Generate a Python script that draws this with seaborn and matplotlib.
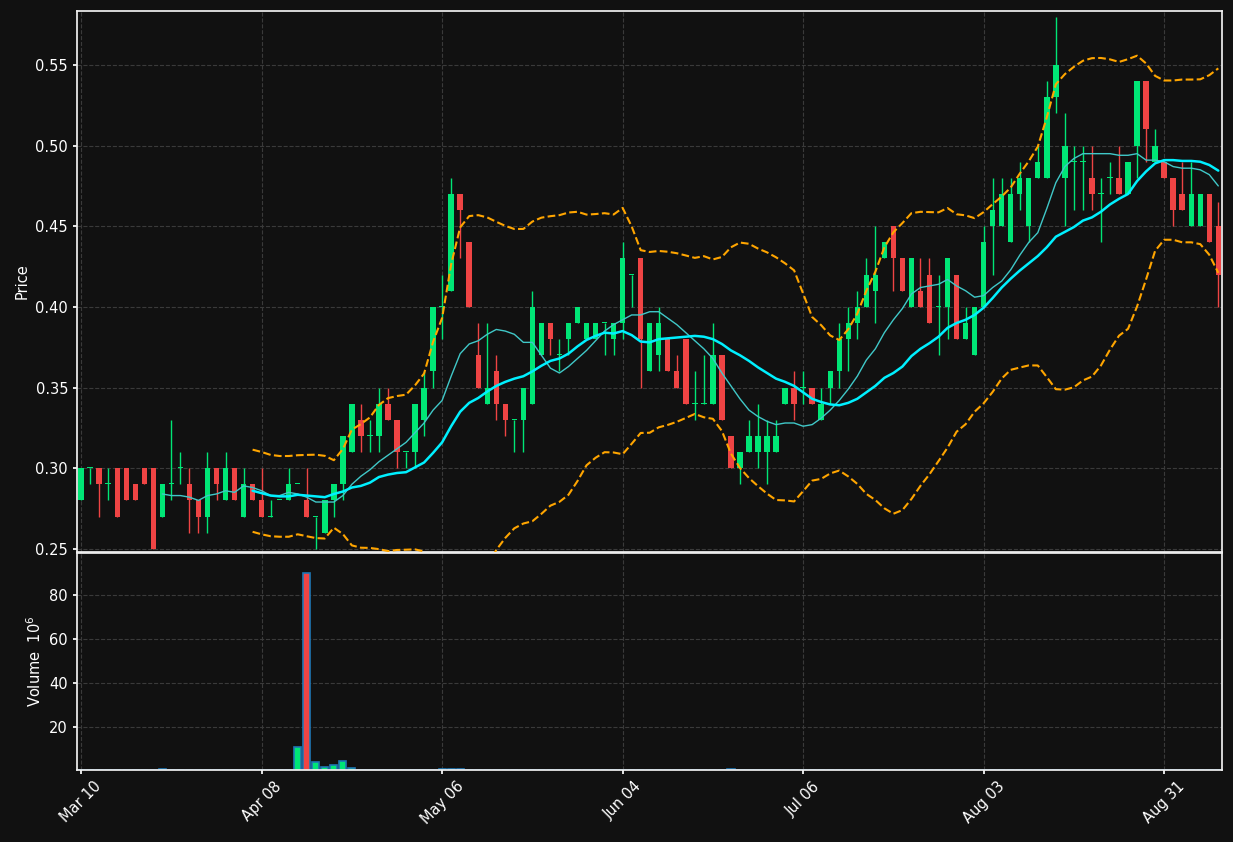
import numpy as np
import pandas as pd
import matplotlib
matplotlib.use('Agg')
import matplotlib.pyplot as plt
import seaborn as sns

# OHLC (one row per trading day)
opens = [0.28, 0.30, 0.30, 0.29, 0.30, 0.30, 0.29, 0.30, 0.30, 0.27,
         0.29, 0.30, 0.29, 0.28, 0.27, 0.30, 0.28, 0.30, 0.27, 0.29,
         0.28, 0.27, 0.28, 0.28, 0.29, 0.28, 0.27, 0.26, 0.28, 0.29,
         0.31, 0.33, 0.32, 0.32, 0.34, 0.33, 0.31, 0.31, 0.33, 0.36,
         0.40, 0.41, 0.47, 0.44, 0.37, 0.34, 0.36, 0.34, 0.33, 0.33,
         0.34, 0.37, 0.39, 0.37, 0.38, 0.39, 0.38, 0.38, 0.39, 0.38,
         0.39, 0.42, 0.43, 0.36, 0.37, 0.38, 0.36, 0.38, 0.34, 0.34,
         0.34, 0.37, 0.32, 0.30, 0.31, 0.31, 0.31, 0.31, 0.34, 0.35,
         0.35, 0.35, 0.33, 0.35, 0.36, 0.38, 0.39, 0.40, 0.41, 0.43,
         0.45, 0.43, 0.40, 0.41, 0.42, 0.40, 0.40, 0.42, 0.38, 0.37,
         0.40, 0.45, 0.45, 0.44, 0.47, 0.45, 0.48, 0.48, 0.53, 0.48,
         0.49, 0.49, 0.48, 0.47, 0.48, 0.48, 0.47, 0.50, 0.54, 0.49,
         0.49, 0.48, 0.47, 0.45, 0.45, 0.47, 0.45]
closes = [0.30, 0.30, 0.29, 0.29, 0.27, 0.28, 0.28, 0.29, 0.25, 0.29,
          0.29, 0.30, 0.28, 0.27, 0.30, 0.29, 0.30, 0.28, 0.29, 0.28,
          0.27, 0.27, 0.28, 0.29, 0.29, 0.27, 0.27, 0.28, 0.29, 0.32,
          0.34, 0.32, 0.32, 0.34, 0.33, 0.31, 0.31, 0.34, 0.35, 0.40,
          0.40, 0.47, 0.46, 0.40, 0.35, 0.35, 0.34, 0.33, 0.33, 0.35,
          0.40, 0.39, 0.38, 0.37, 0.39, 0.40, 0.39, 0.39, 0.39, 0.39,
          0.43, 0.42, 0.38, 0.39, 0.39, 0.36, 0.35, 0.34, 0.34, 0.34,
          0.37, 0.33, 0.30, 0.31, 0.32, 0.32, 0.32, 0.32, 0.35, 0.34,
          0.35, 0.34, 0.34, 0.36, 0.38, 0.39, 0.40, 0.42, 0.42, 0.44,
          0.43, 0.41, 0.43, 0.40, 0.39, 0.40, 0.43, 0.38, 0.39, 0.40,
          0.44, 0.46, 0.47, 0.47, 0.48, 0.48, 0.49, 0.53, 0.55, 0.50,
          0.49, 0.49, 0.47, 0.47, 0.48, 0.47, 0.49, 0.54, 0.51, 0.50,
          0.48, 0.46, 0.46, 0.47, 0.47, 0.44, 0.42]
highs = [0.30, 0.30, 0.30, 0.30, 0.30, 0.30, 0.29, 0.30, 0.30, 0.29,
         0.33, 0.31, 0.30, 0.28, 0.31, 0.30, 0.31, 0.30, 0.30, 0.29,
         0.30, 0.28, 0.28, 0.30, 0.29, 0.30, 0.27, 0.28, 0.29, 0.32,
         0.34, 0.34, 0.33, 0.35, 0.35, 0.33, 0.31, 0.34, 0.36, 0.40,
         0.42, 0.48, 0.47, 0.44, 0.39, 0.39, 0.37, 0.34, 0.33, 0.35,
         0.41, 0.39, 0.39, 0.38, 0.39, 0.40, 0.39, 0.39, 0.39, 0.39,
         0.44, 0.42, 0.43, 0.39, 0.40, 0.38, 0.37, 0.38, 0.36, 0.37,
         0.39, 0.37, 0.32, 0.31, 0.33, 0.34, 0.33, 0.33, 0.35, 0.36,
         0.36, 0.35, 0.35, 0.36, 0.39, 0.40, 0.41, 0.43, 0.45, 0.44,
         0.45, 0.43, 0.43, 0.43, 0.43, 0.42, 0.43, 0.42, 0.40, 0.40,
         0.45, 0.48, 0.48, 0.48, 0.49, 0.48, 0.50, 0.54, 0.58, 0.52,
         0.50, 0.50, 0.50, 0.48, 0.49, 0.50, 0.49, 0.54, 0.54, 0.51,
         0.49, 0.48, 0.49, 0.49, 0.47, 0.47, 0.465]
lows = [0.28, 0.29, 0.27, 0.28, 0.27, 0.28, 0.28, 0.29, 0.25, 0.27,
        0.28, 0.29, 0.26, 0.26, 0.26, 0.28, 0.28, 0.28, 0.27, 0.28,
        0.27, 0.27, 0.28, 0.28, 0.29, 0.27, 0.25, 0.26, 0.27, 0.28,
        0.31, 0.31, 0.31, 0.31, 0.33, 0.30, 0.30, 0.30, 0.32, 0.35,
        0.38, 0.41, 0.43, 0.40, 0.35, 0.34, 0.33, 0.32, 0.31, 0.31,
        0.34, 0.37, 0.37, 0.36, 0.37, 0.39, 0.38, 0.38, 0.37, 0.37,
        0.38, 0.40, 0.35, 0.36, 0.36, 0.36, 0.35, 0.34, 0.33, 0.34,
        0.34, 0.33, 0.30, 0.29, 0.31, 0.30, 0.29, 0.31, 0.34, 0.33,
        0.34, 0.34, 0.33, 0.34, 0.35, 0.36, 0.38, 0.40, 0.39, 0.43,
        0.41, 0.41, 0.40, 0.40, 0.39, 0.37, 0.38, 0.38, 0.38, 0.37,
        0.40, 0.42, 0.45, 0.44, 0.46, 0.44, 0.48, 0.48, 0.52, 0.45,
        0.46, 0.46, 0.46, 0.44, 0.47, 0.47, 0.47, 0.48, 0.49, 0.49,
        0.48, 0.45, 0.46, 0.45, 0.45, 0.44, 0.40]
volumes = [0.3, 0.3, 0.3, 0.3, 0.3, 0.3, 0.3, 0.3, 0.4, 0.8,
           0.6, 0.3, 0.3, 0.3, 0.3, 0.6, 0.3, 0.3, 0.5, 0.3,
           0.5, 0.3, 0.3, 0.4, 11.0, 90.0, 4.0, 2.0, 2.5, 4.5,
           1.5, 0.6, 0.5, 0.6, 0.6, 0.6, 0.4, 0.4, 0.4, 0.6,
           0.8, 0.8, 0.7, 0.6, 0.6, 0.6, 0.5, 0.4, 0.4, 0.4,
           0.6, 0.4, 0.4, 0.3, 0.3, 0.3, 0.3, 0.3, 0.3, 0.3,
           0.3, 0.3, 0.3, 0.3, 0.3, 0.3, 0.3, 0.3, 0.3, 0.3,
           0.6, 0.3, 0.8, 0.3, 0.3, 0.3, 0.3, 0.3, 0.3, 0.3,
           0.3, 0.3, 0.3, 0.3, 0.3, 0.3, 0.3, 0.3, 0.3, 0.3,
           0.3, 0.3, 0.3, 0.4, 0.3, 0.3, 0.3, 0.3, 0.3, 0.3,
           0.5, 0.3, 0.3, 0.3, 0.3, 0.3, 0.3, 0.5, 0.5, 0.5,
           0.3, 0.3, 0.3, 0.3, 0.3, 0.3, 0.3, 0.3, 0.3, 0.3,
           0.3, 0.3, 0.3, 0.3, 0.3, 0.3, 0.3]
tick_labels = ['Mar 10', 'Apr 08', 'May 06', 'Jun 04', 'Jul 06', 'Aug 03', 'Aug 31']

df = pd.DataFrame({'open': opens, 'high': highs, 'low': lows,
                   'close': closes, 'volume': volumes})
df['idx'] = np.arange(len(df))
df['ma10'] = df['close'].rolling(10).mean()
df['ma20'] = df['close'].rolling(20).mean()
std20 = df['close'].rolling(20).std()
df['bb_up'] = df['ma20'] + 2 * std20
df['bb_lo'] = df['ma20'] - 2 * std20

UP = '#00e676'
DOWN = '#ef4444'
BG = '#111111'

sns.set_theme(style='dark', rc={
    'figure.facecolor': BG, 'axes.facecolor': BG,
    'axes.edgecolor': '#f0f0f0', 'text.color': 'white',
    'axes.labelcolor': 'white', 'xtick.color': 'white', 'ytick.color': 'white',
    'grid.color': '#3a3a3a', 'grid.linestyle': '--',
    'axes.labelsize': 10.5, 'xtick.labelsize': 10.5, 'ytick.labelsize': 10.5,
})
plt.rcParams['font.family'] = ['DejaVu Sans']

fig = plt.figure(figsize=(12.33, 8.42), dpi=100)
ax = fig.add_axes([0.0625, 0.3444, 0.9285, 0.6426])
axv = fig.add_axes([0.0625, 0.0855, 0.9285, 0.2577], sharex=ax)

colors = np.where(df['close'] >= df['open'], UP, DOWN)
ax.vlines(df['idx'], df['low'], df['high'], colors=colors, linewidth=1, zorder=2)
body = (df['close'] - df['open']).abs()
body = body.where(body > 0, 0.0006)
ax.bar(df['idx'], body, bottom=np.minimum(df['open'], df['close']),
       width=0.6, color=colors, linewidth=0, zorder=3)

sns.lineplot(data=df, x='idx', y='ma10', ax=ax, color='#40c8c8', linewidth=1, zorder=4)
sns.lineplot(data=df, x='idx', y='ma20', ax=ax, color='#00f0ff', linewidth=1.8, zorder=4)
sns.lineplot(data=df, x='idx', y='bb_up', ax=ax, color='#ffa500', linewidth=1.5, linestyle='--', zorder=4)
sns.lineplot(data=df, x='idx', y='bb_lo', ax=ax, color='#ffa500', linewidth=1.5, linestyle='--', zorder=4)

ax.set_ylim(0.248, 0.5835)
ax.set_xlim(-0.45, 126.4)
ax.set_ylabel('Price')
ax.set_xlabel('')
ax.grid(True, linewidth=0.8)
ax.tick_params(labelbottom=False, left=True, bottom=True, length=3)

axv.bar(df['idx'], df['volume'], width=0.8, color=colors, edgecolor='#1f77b4', linewidth=1.2)
axv.set_ylim(0.45, 99)
axv.set_yticks([20, 40, 60, 80])
axv.set_ylabel('Volume  $10^{6}$')
axv.grid(True, linewidth=0.8)
axv.set_xticks(np.arange(0, 121, 20))
axv.set_xticklabels(tick_labels, rotation=45)
axv.tick_params(left=True, bottom=True, length=3)

for a in (ax, axv):
    for s in a.spines.values():
        s.set_color('#f0f0f0')

fig.savefig('out.png', dpi=100, facecolor=BG)
